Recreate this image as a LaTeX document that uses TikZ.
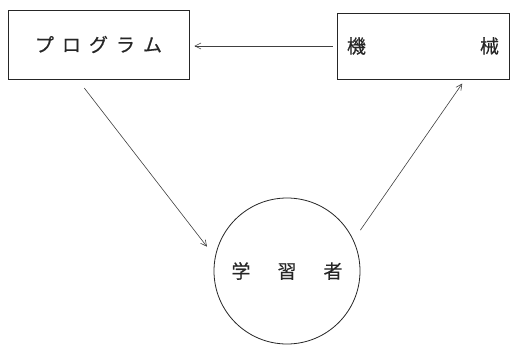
\documentclass[tikz,border=0pt]{standalone}
\usepackage{fontspec}
\newfontfamily\jp[FakeBold=0.4]{Noto Sans CJK JP}
\usetikzlibrary{arrows.meta,calc}
\begin{document}
\begin{tikzpicture}[x=1pt,y=-1pt,
  box/.style={draw=black!85, line width=0.8pt, rectangle, inner sep=0pt},
  lbl/.style={font=\jp\fontsize{19}{19}\selectfont, text=black!85},
  conn/.style={draw=black!75, line width=0.6pt, -{Straight Barb[length=6pt,width=6pt]}}]
\useasboundingbox[fill=white] (0,0) rectangle (510,348);
\node[box, minimum width=181pt, minimum height=69pt, lbl] (prog) at (98.5,44.5)
  {プ\hspace{8pt}ロ\hspace{8pt}グ\hspace{8pt}ラ\hspace{8pt}ム};
\node[box, minimum width=172pt, minimum height=66pt, lbl] (mach) at (423,46)
  {機\hspace{114pt}械};
\node[draw=black!85, line width=0.8pt, circle, minimum size=146pt, inner sep=0pt, lbl] (learner) at (287,271)
  {学\hspace{27pt}習\hspace{27pt}者};
\draw[conn, shorten <=4pt, shorten >=5pt] (mach.west) -- (prog.east |- mach.west);
\draw[conn, shorten <=11pt, shorten >=13pt] ($(prog.south west)+(70,0)$) -- (learner.169.5);
\draw[conn, shorten <=12pt, shorten >=5pt] (learner.25) -- ($(mach.south west)+(128.5,0)$);
\end{tikzpicture}
\end{document}
